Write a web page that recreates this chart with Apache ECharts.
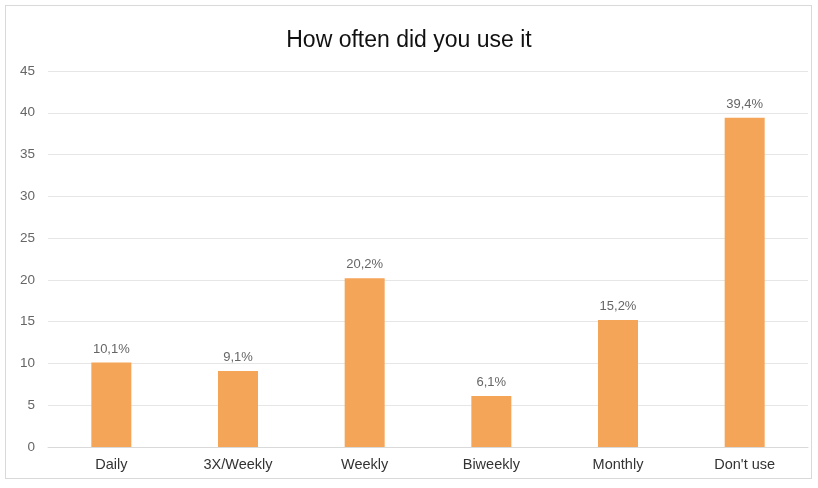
<!DOCTYPE html>
<html>
<head>
<meta charset="utf-8">
<script src="https://cdn.jsdelivr.net/npm/echarts@6/dist/echarts.min.js"></script>
<style>
  html, body { margin: 0; padding: 0; background: #ffffff; }
  #frame { position: absolute; left: 5px; top: 5px; width: 807px; height: 474px; border: 1px solid #d9d9d9; box-sizing: border-box; }
  #chart { position: absolute; left: 0; top: 0; width: 818px; height: 488px; }
</style>
</head>
<body>
<div id="frame"></div>
<div id="chart"></div>
<script>
// Survey: usage frequency
const categories = ['Daily', '3X/Weekly', 'Weekly', 'Biweekly', 'Monthly', "Don't use"];
const shares = [10.1, 9.1, 20.2, 6.1, 15.2, 39.4];
const yTicks = [0, 5, 10, 15, 20, 25, 30, 35, 40, 45];

const chart = echarts.init(document.getElementById('chart'), null, { renderer: 'canvas' });

const font = 'Liberation Sans, Arial, sans-serif';

chart.setOption({
  animation: false,
  title: {
    text: 'How often did you use it',
    left: 'center',
    top: 24,
    textStyle: { fontFamily: font, fontSize: 23, fontWeight: 'normal', color: '#111111' }
  },
  grid: { left: 48, right: 10, top: 71, bottom: 41 },
  xAxis: {
    type: 'category',
    data: categories,
    axisTick: { show: false },
    axisLine: { lineStyle: { color: '#d9d9d9' } },
    axisLabel: { color: '#333333', fontSize: 14.5, margin: 10, fontFamily: font }
  },
  yAxis: {
    type: 'value',
    min: yTicks[0],
    max: yTicks[yTicks.length - 1],
    interval: 5,
    axisLine: { show: false },
    axisTick: { show: false },
    splitLine: { lineStyle: { color: '#e6e6e6' } },
    axisLabel: { color: '#666666', fontSize: 13.5, margin: 13, fontFamily: font }
  },
  series: [{
    type: 'bar',
    data: shares,
    barWidth: 40,
    itemStyle: { color: '#F4A557' },
    label: {
      show: true,
      position: 'top',
      distance: 7,
      color: '#666666',
      fontSize: 13,
      fontFamily: font,
      formatter: p => p.value.toFixed(1).replace('.', ',') + '%'
    }
  }]
});
</script>
</body>
</html>
